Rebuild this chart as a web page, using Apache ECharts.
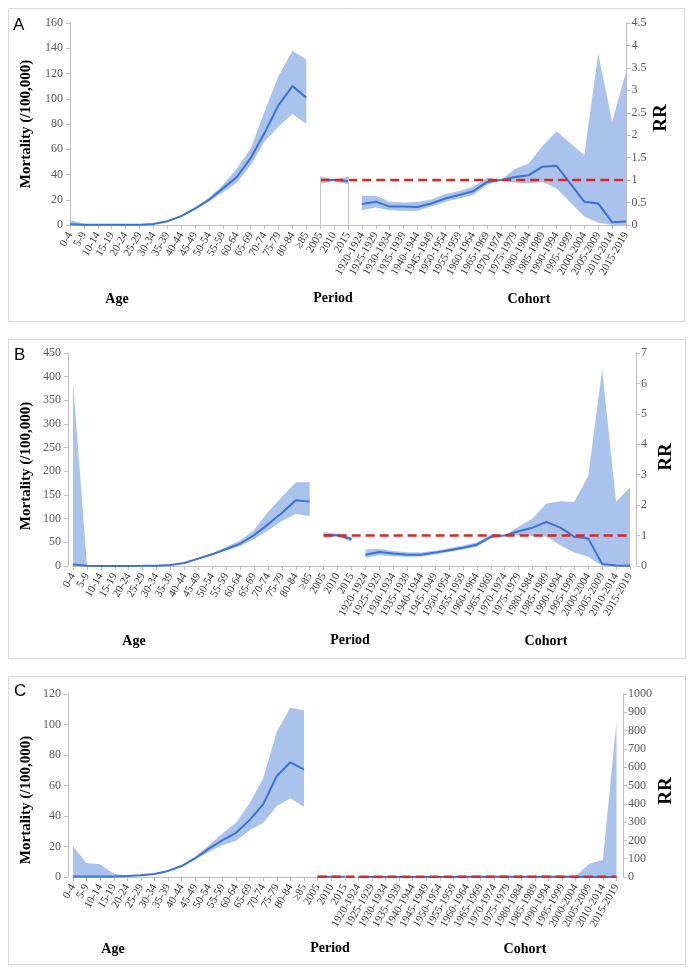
<!DOCTYPE html>
<html><head><meta charset="utf-8">
<script src="https://cdn.jsdelivr.net/npm/echarts@6.0.0/dist/echarts.min.js"></script>
<style>html,body{margin:0;padding:0;background:#fff}#c{width:696px;height:975px}</style>
</head><body><div id="c"></div><script>
// ---------- categories ----------
const ageLabels = ['0-4','5-9','10-14','15-19','20-24','25-29','30-34','35-39','40-44','45-49','50-54','55-59','60-64','65-69','70-74','75-79','80-84','≥85'];
const periodLabels = ['2005','2010','2015'];
const cohortLabels = ['1920-1924','1925-1929','1930-1934','1935-1939','1940-1944','1945-1949','1950-1954','1955-1959','1960-1964','1965-1969','1970-1974','1975-1979','1980-1984','1985-1989','1990-1994','1995-1999','2000-2004','2005-2009','2010-2014','2015-2019'];
const groupTitles = ['Age','Period','Cohort'];
const refRR = 1;

// ---------- Panel A ----------
const ageRateA = [0.5,0.2,0.1,0.1,0.1,0.2,0.8,3,7,13,20,29,38,53,73,95,110,101];
const ageLowA  = [0,0,0,0,0,0.1,0.6,2.7,6.5,12.3,18.5,26,33.5,47.5,66,78,88,80];
const ageUpA   = [4,1,0.3,0.2,0.2,0.4,1.1,3.4,7.6,14,21.5,31.6,44.8,60.6,90,118,138,131];
const periodRRA  = [1.0,1.0,0.98];
const periodLowA = [0.92,0.98,0.91];
const periodUpA  = [1.08,1.02,1.07];
const cohortRRA  = [0.47,0.52,0.41,0.41,0.40,0.48,0.59,0.67,0.75,0.96,1.0,1.07,1.11,1.30,1.32,0.92,0.52,0.48,0.06,0.08];
const cohortLowA = [0.33,0.39,0.33,0.32,0.32,0.41,0.52,0.59,0.67,0.89,1.0,0.94,0.93,0.96,0.82,0.50,0.19,0.05,0,0];
const cohortUpA  = [0.65,0.65,0.52,0.50,0.51,0.57,0.69,0.76,0.85,1.05,1.0,1.25,1.37,1.76,2.09,1.82,1.56,3.82,2.30,3.41];

// ---------- Panel B ----------
const ageRateB = [3,0.5,0.2,0.2,0.2,0.3,0.6,2,6.4,15.5,24.7,36,47,65,88,112,139,136];
const ageLowB  = [0,0,0,0,0,0.1,0.3,1.5,5.5,14,23,33,42,57,75,95,110,105];
const ageUpB   = [390,1,0.4,0.4,0.4,0.5,0.9,2.6,7.3,17,27,40,54,76,114,146,177,177];
const periodRRB  = [1.02,1.01,0.89];
const periodLowB = [0.92,0.97,0.80];
const periodUpB  = [1.12,1.05,0.95];
const cohortRRB  = [0.37,0.46,0.41,0.37,0.37,0.44,0.52,0.60,0.70,0.96,1.0,1.14,1.26,1.45,1.26,0.96,0.90,0.07,0.02,0.01];
const cohortLowB = [0.27,0.35,0.32,0.30,0.31,0.38,0.46,0.54,0.63,0.90,1.0,1.0,0.98,0.96,0.68,0.44,0.30,0.01,0,0];
const cohortUpB  = [0.54,0.57,0.49,0.45,0.44,0.50,0.58,0.67,0.78,1.02,1.0,1.29,1.56,2.05,2.13,2.11,2.96,6.45,2.11,2.58];

// ---------- Panel C ----------
const ageRateC = [0.3,0.3,0.3,0.4,0.7,1.2,2.0,4.0,7.2,12.3,18.6,24.1,29,37.3,47.8,66.2,75.2,70.6];
const ageLowC  = [0,0,0,0.2,0.5,0.9,1.6,3.6,6.6,11.5,16.5,20.8,23.7,30.7,35.5,46.5,51.6,46.1];
const ageUpC   = [20.2,9.2,8.3,2.2,1.0,1.4,2.3,4.5,7.8,13.2,20.8,28.5,35.5,48.3,64.7,95.4,111.2,109.2];
const periodRRC  = [1.0,1.0,0.98];
const periodLowC = [0.90,0.97,0.90];
const periodUpC  = [1.10,1.03,1.07];
const cohortRRC  = [0.55,0.60,0.50,0.48,0.47,0.52,0.60,0.68,0.78,0.95,1.0,1.05,1.10,1.20,1.15,0.90,0.70,0.40,0.30,0.50];
const cohortLowC = [0.40,0.45,0.38,0.36,0.36,0.42,0.50,0.58,0.68,0.88,1.0,0.90,0.85,0.80,0.60,0.35,0.15,0.02,0.01,0.01];
const cohortUpC  = [0.70,0.75,0.65,0.60,0.60,0.65,0.72,0.80,0.90,1.05,1.0,1.20,1.35,1.70,2.00,2.50,5,73,94,850];

// ---------- layout (styles) ----------
const categories = [...ageLabels, ...periodLabels, ...cohortLabels];
const N = categories.length;
const P0 = ageLabels.length, C0 = ageLabels.length + periodLabels.length;
const BLUE = '#3a72d6', BAND = '#a9c3ec', RED = '#e02424', AX = '#bfbfbf';
const SERIF = '"Liberation Serif","Times New Roman",serif';

const panels = [
  {age:[ageRateA,ageLowA,ageUpA], per:[periodRRA,periodLowA,periodUpA], coh:[cohortRRA,cohortLowA,cohortUpA],
   grid:{left:70, top:23, width:556, height:202}, offL:0, offR:0.5, yMax:160, yInt:20, rMax:4.5, rInt:0.5,
   box:[8.5,8.5,676,313], letter:['A',13,17], mort:[26,124], rr:[661,118],
   groups:[[117,299],[333,298],[529,299]], periodEdges:true},
  {age:[ageRateB,ageLowB,ageUpB], per:[periodRRB,periodLowB,periodUpB], coh:[cohortRRB,cohortLowB,cohortUpB],
   grid:{left:73, top:353, width:557, height:213}, offL:5, offR:6, yMax:450, yInt:50, rMax:7, rInt:1,
   box:[8.5,339.5,677,319], letter:['B',14,347], mort:[26,466], rr:[666,457],
   groups:[[134,641],[350,640],[546,641]], periodEdges:false},
  {age:[ageRateC,ageLowC,ageUpC], per:[periodRRC,periodLowC,periodUpC], coh:[cohortRRC,cohortLowC,cohortUpC],
   grid:{left:73, top:694, width:543.5, height:183}, offL:5, offR:6.5, yMax:120, yInt:20, rMax:1000, rInt:100,
   box:[8.5,676.5,677,288], letter:['C',14,683], mort:[26,800], rr:[666,791],
   groups:[[113,949],[330,948],[525,949]], periodEdges:false}
];

function place(arr, start){ const out = new Array(N).fill(null); arr.forEach((v,i)=>{ out[start+i]=v; }); return out; }
function diff(up, low){ return up.map((u,i)=> +(u-low[i]).toFixed(5)); }

const grids=[], xAxes=[], yAxes=[], series=[], graphics=[];
panels.forEach((p, gi)=>{
  grids.push(Object.assign({containLabel:false, outerBoundsMode:'none'}, p.grid));
  xAxes.push({type:'category', gridIndex:gi, data:categories, boundaryGap:false,
    axisLine:{show:true, lineStyle:{color:AX, width:1}},
    axisTick:{show:true, interval:0, length:4, lineStyle:{color:AX}},
    axisLabel:{interval:0, rotate:60, fontFamily:SERIF, fontSize:11, color:'#404040', margin:8},
    splitLine:{show:false}});
  const common = {type:'value', gridIndex:gi, min:0, splitLine:{show:false},
    axisLine:{show:true, lineStyle:{color:AX}}, axisTick:{show:true, length:4, lineStyle:{color:AX}},
    axisLabel:{fontFamily:SERIF, fontSize:12, color:'#595959', margin:7, formatter:(v)=>String(v)}};
  yAxes.push(Object.assign({}, common, {position:'left', offset:p.offL, max:p.yMax, interval:p.yInt}));
  yAxes.push(Object.assign({}, common, {position:'right', offset:p.offR, max:p.rMax, interval:p.rInt,
     axisLabel:Object.assign({}, common.axisLabel, {margin:5})}));
  const yL = gi*2, yR = gi*2+1;
  const groups = [[p.age,0,yL,'age'],[p.per,P0,yR,'per'],[p.coh,C0,yR,'coh']];
  groups.forEach(([d,start,yi,key])=>{
    const [val, low, up] = d;
    const lowSeries = {type:'line', xAxisIndex:gi, yAxisIndex:yi, stack:'s'+gi+key, data:place(low,start),
      symbol:'none', lineStyle:{opacity:0}, silent:true, z:1};
    if (key==='per' && p.periodEdges){
      lowSeries.markLine = {symbol:'none', silent:true, label:{show:false}, animation:false,
        lineStyle:{color:'#c8c8c8', width:1, type:'solid'},
        data:[[{coord:[periodLabels[0],0]},{coord:[periodLabels[0],up[0]]}],
              [{coord:[periodLabels[2],0]},{coord:[periodLabels[2],up[2]]}]]};
    }
    series.push(lowSeries);
    series.push({type:'line', xAxisIndex:gi, yAxisIndex:yi, stack:'s'+gi+key, data:place(diff(up,low),start),
      symbol:'none', lineStyle:{opacity:0}, areaStyle:{color:BAND, opacity:1}, silent:true, z:1});
    series.push({type:'line', xAxisIndex:gi, yAxisIndex:yi, data:place(val,start),
      symbol:'none', lineStyle:{color:BLUE, width:2}, z:3});
  });
  series.push({type:'line', xAxisIndex:gi, yAxisIndex:yR,
    data:place(new Array(N-P0).fill(refRR), P0), symbol:'none',
    lineStyle:{color:RED, width:2.5, type:[9,5]}, z:4});

  graphics.push({type:'rect', z:-1, shape:{x:p.box[0], y:p.box[1], width:p.box[2], height:p.box[3]},
    style:{fill:'none', stroke:'#d9d9d9', lineWidth:1}});
  graphics.push({type:'text', x:p.letter[1], y:p.letter[2], style:{text:p.letter[0],
    font:'17px "Liberation Sans", Arial, sans-serif', fill:'#000', textAlign:'left', textVerticalAlign:'top'}});
  graphics.push({type:'text', x:p.mort[0], y:p.mort[1], rotation:Math.PI/2, style:{text:'Mortality (/100,000)',
    font:'bold 15px ' + SERIF, fill:'#000', textAlign:'center', textVerticalAlign:'middle'}});
  graphics.push({type:'text', x:p.rr[0], y:p.rr[1], rotation:Math.PI/2, style:{text:'RR',
    font:'bold 19px ' + SERIF, fill:'#000', textAlign:'center', textVerticalAlign:'middle'}});
  p.groups.forEach((g,k)=>{
    graphics.push({type:'text', x:g[0], y:g[1], style:{text:groupTitles[k],
      font:'bold 14px ' + SERIF, fill:'#000', textAlign:'center', textVerticalAlign:'middle'}});
  });
});

const chart = echarts.init(document.getElementById('c'), null, {renderer:'canvas'});
chart.setOption({animation:false, backgroundColor:'#fff', grid:grids, xAxis:xAxes, yAxis:yAxes, series:series, graphic:graphics});
</script></body></html>
